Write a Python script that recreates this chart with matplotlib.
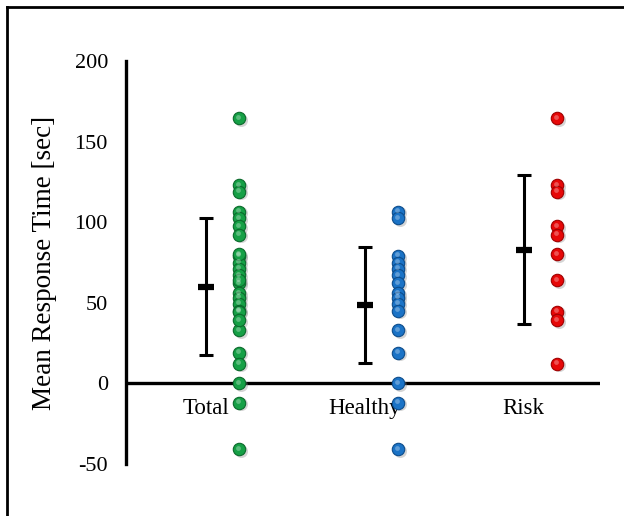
import matplotlib
matplotlib.use("Agg")
import matplotlib.pyplot as plt
from matplotlib.lines import Line2D

plt.rcParams['font.family'] = ['Liberation Serif', 'DejaVu Serif']
plt.rcParams['axes.unicode_minus'] = False

# values
groups = ['Total', 'Healthy', 'Risk']
healthy = [106.4, 102.3, 79, 75, 71, 67, 62, 56, 53, 49.5, 45, 33, 19, 0, -12, -41]
risk = [164.4, 123, 118.8, 97.5, 92.3, 80, 64, 44.3, 39.1, 12.2]
total = healthy + risk  # total column shows both groups together
means = [60, 48.5, 83]
errs = [42.5, 36, 46]

colors = ['#16a046', '#1b73c6', '#e60808']
edges = ['#0b6a2c', '#0d4d8c', '#a00000']

fig = plt.figure(figsize=(6.24, 5.16), dpi=100)
ax = fig.add_axes([126/624, 1 - 464/516, (600 - 126)/624, (464 - 61)/516])

xs = [1, 2, 3]
off = 0.21
for i, vals in enumerate([total, healthy, risk]):
    x = [xs[i] + off] * len(vals)
    # soft shadow, ball, highlight
    ax.scatter([v + 0.012 for v in x], [v - 0.9 for v in vals], s=88, color='#888888',
               alpha=0.35, linewidths=0, zorder=3)
    ax.scatter(x, vals, s=80, color=colors[i], edgecolors=edges[i], linewidths=0.8, zorder=4)
    ax.scatter([v - 0.006 for v in x], [v + 1.0 for v in vals], s=12, color='white',
               alpha=0.3, linewidths=0, zorder=5)

ax.errorbar(xs, means, yerr=errs, fmt='none', ecolor='black', elinewidth=2.2,
            capsize=4.8, capthick=2.2, zorder=6)
ax.plot(xs, means, linestyle='none', marker='_', markersize=11.5, markeredgewidth=4.5,
        color='black', zorder=7)

ax.axhline(0, color='black', lw=2.4, zorder=2)

ax.set_xlim(0.5, 3.48)
ax.set_ylim(-50, 200)
ax.set_yticks([-50, 0, 50, 100, 150, 200])
ax.set_xticks([])
ax.tick_params(axis='y', length=0, pad=13, labelsize=16)
for s in ['top', 'right', 'bottom']:
    ax.spines[s].set_visible(False)
ax.spines['left'].set_linewidth(2.4)

for i, g in enumerate(groups):
    ax.text(xs[i], -9, g, ha='center', va='top', fontsize=16.5)

fig.text(45/624, 1 - 263/516, 'Mean Response Time [sec]', rotation=90,
         ha='center', va='center', fontsize=19.5)

# outer frame (top and left edges visible)
fig.add_artist(Line2D([7/624, 1], [1 - 7/516, 1 - 7/516], color='black', lw=2,
                      transform=fig.transFigure))
fig.add_artist(Line2D([7/624, 7/624], [0, 1 - 7/516], color='black', lw=2,
                      transform=fig.transFigure))

fig.savefig('out.png', dpi=100)
